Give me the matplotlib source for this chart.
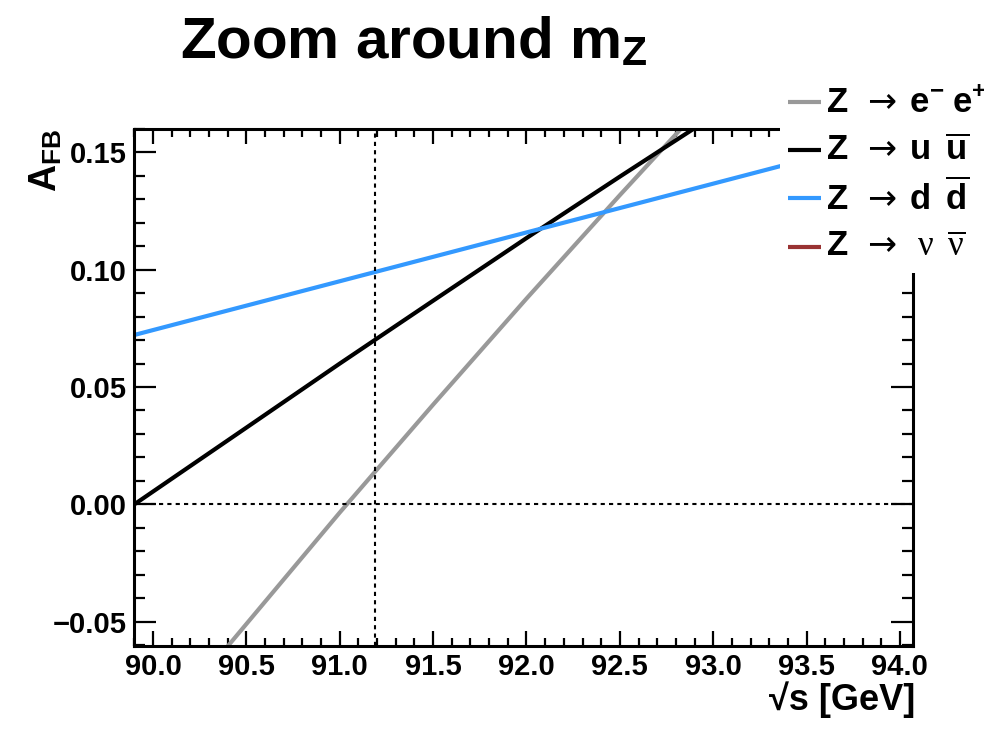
import matplotlib
matplotlib.use("Agg")
import matplotlib.pyplot as plt
from matplotlib.lines import Line2D
from matplotlib.patches import Rectangle

# %%
plt.rcParams['font.family'] = ['Liberation Sans', 'DejaVu Sans']
plt.rcParams['font.weight'] = 'bold'
plt.rcParams['mathtext.fontset'] = 'custom'
plt.rcParams['mathtext.rm'] = 'DejaVu Sans:normal'
plt.rcParams['mathtext.it'] = 'Liberation Serif:normal'
plt.rcParams['mathtext.bf'] = 'Liberation Sans:bold'

# data
sqrt_s_ee = [90.3, 90.5, 91.0, 91.5, 92.0, 92.5, 93.0]
afb_ee = [-0.070, -0.051, -0.0035, 0.0425, 0.0877, 0.1318, 0.175]

sqrt_s_uu = [89.9, 90.5, 91.0, 91.5, 92.0, 92.5, 93.0]
afb_uu = [0.0, 0.0327, 0.0600, 0.0868, 0.1135, 0.1397, 0.1655]

sqrt_s_dd = [89.9, 90.5, 91.0, 91.5, 92.0, 92.5, 93.0, 93.5, 94.0]
afb_dd = [0.0722, 0.0847, 0.0951, 0.1055, 0.1159, 0.1263, 0.1367, 0.1471, 0.1575]

m_Z = 91.19

series_labels = [r"$\mathbf{Z}\;\;\rightarrow\;\mathbf{e^{-}\;e^{+}}$",
                 r"$\mathbf{Z}\;\;\rightarrow\;\mathbf{u\;\;\overline{u}}$",
                 r"$\mathbf{Z}\;\;\rightarrow\;\mathbf{d\;\;\overline{d}}$",
                 r"$\mathbf{Z}\;\;\rightarrow\;\;\nu\;\;\overline{\nu}$"]
series_colors = ['#999999', '#000000', '#3399ff', '#993333']

# %%
W, H = 984, 729
fig = plt.figure(figsize=(W / 100, H / 100), dpi=100)
ax = fig.add_axes([134 / W, 1 - 646 / H, (913 - 134) / W, (646 - 129) / H])

ax.plot(sqrt_s_ee, afb_ee, color=series_colors[0], lw=3, solid_capstyle='butt')
ax.plot(sqrt_s_uu, afb_uu, color=series_colors[1], lw=3, solid_capstyle='butt')
ax.plot(sqrt_s_dd, afb_dd, color=series_colors[2], lw=3, solid_capstyle='butt')

ax.axvline(m_Z, color='black', lw=1.5, ls=(0, (2, 2)))
ax.axhline(0.0, color='black', lw=1.5, ls=(0, (2, 2)))

ax.set_xlim(89.898, 94.07)
ax.set_ylim(-0.0604, 0.1599)

ax.set_xticks([90.0, 90.5, 91.0, 91.5, 92.0, 92.5, 93.0, 93.5, 94.0])
ax.set_xticks([89.9 + 0.1 * i for i in range(42)], minor=True)
ax.set_yticks([-0.05, 0.0, 0.05, 0.10, 0.15])
ax.set_yticks([-0.06 + 0.01 * i for i in range(23)], minor=True)
ax.set_xticklabels(['90.0', '90.5', '91.0', '91.5', '92.0', '92.5', '93.0', '93.5', '94.0'])
ax.set_yticklabels(['\u22120.05', '0.00', '0.05', '0.10', '0.15'])

for s in ax.spines.values():
    s.set_linewidth(2.2)

ax.tick_params(which='both', direction='in', top=True, right=True, width=1.6,
               labelsize=21)
ax.tick_params(axis='x', which='major', length=11, pad=5)
ax.tick_params(axis='x', which='minor', length=6)
ax.tick_params(axis='y', which='major', length=16, pad=5)
ax.tick_params(axis='y', which='minor', length=8)

ax.set_xlabel('\u221as [GeV]', fontsize=26, fontweight='bold', loc='right')
ax.xaxis.set_label_coords(1.003, -0.068)
ax.set_ylabel(r'A$_{\mathbf{FB}}$', fontsize=27, fontweight='bold', loc='top')
ax.yaxis.set_label_coords(-0.089, 1.0)

# title
fig.text(180 / W, 1 - 58 / H, r'Zoom around m$_{\mathbf{Z}}$', fontsize=42,
         fontweight='bold', ha='left', va='baseline')

# legend box drawn over the top-right corner
fig.patches.append(Rectangle((780 / W, 1 - 273 / H), (W - 780) / W, (273 - 75) / H,
                             transform=fig.transFigure, facecolor='white',
                             edgecolor='none', zorder=10))
row_y = [102, 150, 198, 247]
for yy, lab, col in zip(row_y, series_labels, series_colors):
    fig.lines.append(Line2D([788 / W, 821 / W], [1 - yy / H, 1 - yy / H],
                            transform=fig.transFigure, color=col, lw=3,
                            solid_capstyle='butt', zorder=11))
    fig.text(826 / W, 1 - yy / H, lab, fontsize=25, ha='left', va='center',
             zorder=12)

fig.savefig('out.png', dpi=100)
